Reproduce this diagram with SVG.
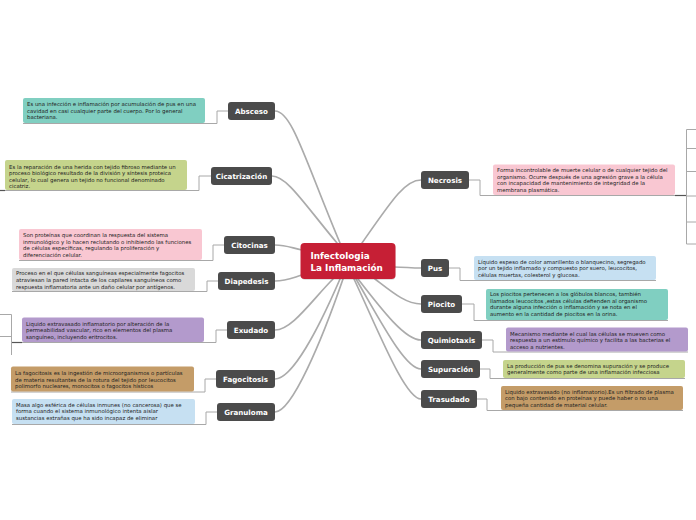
<svg xmlns="http://www.w3.org/2000/svg" width="696" height="520" viewBox="0 0 696 520">
<style>
.bg{fill:#ffffff}
.topic rect{fill:#4b4b4b}
.topic text{fill:#ffffff;font-family:"DejaVu Sans",Verdana,sans-serif;font-weight:bold;font-size:7.1px;text-anchor:middle}
.note text{fill:#222222;font-family:"DejaVu Sans",Verdana,sans-serif;font-size:5.4px}
.cur{fill:none;stroke:#ababab;stroke-width:1.7;stroke-linecap:round}
.ln{fill:none;stroke:#a8a8a8;stroke-width:1}
.dk{fill:none;stroke:#555555;stroke-width:1.2}
.shadow{fill:#000000;opacity:0.12}
</style>
<rect class="bg" x="0" y="0" width="696" height="520"/>

<g id="connectors">
  <path class="cur" d="M275,111 C292,111 305,160 340,243"/>
  <path class="cur" d="M272,176 C287,176 305,205 337,243"/>
  <path class="cur" d="M275,245 C286,245 292,248 302,250"/>
  <path class="cur" d="M275,281 C286,281 292,278 302,275"/>
  <path class="cur" d="M275,330 C292,330 312,300 333,279"/>
  <path class="cur" d="M275,379 C292,379 318,330 340,279"/>
  <path class="cur" d="M275,412 C292,412 322,340 343,279"/>
  <path class="cur" d="M421,180 C405,180 392,200 362,243"/>
  <path class="cur" d="M421,268 C410,268 405,267 394,267"/>
  <path class="cur" d="M421,304 C406,304 392,292 375,279"/>
  <path class="cur" d="M421,340 C405,340 382,310 358,279"/>
  <path class="cur" d="M421,369 C405,369 380,320 356,279"/>
  <path class="cur" d="M421,399 C405,399 378,330 354,279"/>

  <path class="ln" d="M23,123.5 H217 V111 H228"/>
  <path class="ln" d="M5,190.5 H199 V176 H211"/>
  <path class="ln" d="M19,260.5 H213 V245 H224"/>
  <path class="ln" d="M12,291.5 H207 V281 H218"/>
  <path class="ln" d="M22,342.5 H216 V330 H227"/>
  <path class="ln" d="M11,392 H205 V379 H216"/>
  <path class="ln" d="M12,424.5 H206 V412 H217"/>

  <path class="ln" d="M469,180 H480 V195.5 H675"/>
  <path class="ln" d="M448,268 H460 V280.5 H656"/>
  <path class="ln" d="M462,304 H474 V320.5 H668"/>
  <path class="ln" d="M482,340 H493 V352 H688"/>
  <path class="ln" d="M480,369 H490 V378.5 H685"/>
  <path class="ln" d="M477,399 H487 V410.5 H683"/>

  <path class="dk" d="M0,190.5 H5"/>
  <path class="dk" d="M11.5,342.5 H22"/>
  <path class="ln" d="M0,314.5 H11.5 V355"/>
  <path class="ln" d="M0,336.5 H11.5"/>
  <path class="dk" d="M675,195.5 H686"/>
  <path class="ln" d="M696,129.5 H686.5 V244 H696"/>
  <path class="ln" d="M686.5,148.5 H696"/>
  <path class="ln" d="M686.5,171.5 H696"/>
  <path class="ln" d="M686.5,196 H696"/>
  <path class="ln" d="M686.5,222 H696"/>
</g>

<g id="central">
  <rect x="301.5" y="244" width="94" height="36" rx="4" class="shadow"/>
  <rect x="300.5" y="243" width="95" height="36" rx="4" fill="#c61f35"/>
  <text x="310.5" y="259" fill="#ffffff" font-family="DejaVu Sans, Verdana, sans-serif" font-weight="bold" font-size="8.8">Infectologia</text>
  <text x="310.5" y="270.5" fill="#ffffff" font-family="DejaVu Sans, Verdana, sans-serif" font-weight="bold" font-size="8.8">La Inflamación</text>
</g>

<g id="absceso" class="topic"><rect x="228" y="102" width="47" height="18" rx="3"/><text x="251.5" y="114">Absceso</text></g>
<g id="cicatrizacion" class="topic"><rect x="211" y="167" width="61" height="18" rx="3"/><text x="241.5" y="179">Cicatrización</text></g>
<g id="citocinas" class="topic"><rect x="224" y="236" width="51" height="18" rx="3"/><text x="249.5" y="248">Citocinas</text></g>
<g id="diapedesis" class="topic"><rect x="218" y="272" width="57" height="18" rx="3"/><text x="246.5" y="284">Diapedesis</text></g>
<g id="exudado" class="topic"><rect x="227" y="321" width="48" height="18" rx="3"/><text x="251" y="333">Exudado</text></g>
<g id="fagocitosis" class="topic"><rect x="216" y="370" width="59" height="18" rx="3"/><text x="245.5" y="382">Fagocitosis</text></g>
<g id="granuloma" class="topic"><rect x="217" y="403" width="58" height="18" rx="3"/><text x="246" y="415">Granuloma</text></g>
<g id="necrosis" class="topic"><rect x="421" y="171" width="48" height="18" rx="3"/><text x="445" y="183">Necrosis</text></g>
<g id="pus" class="topic"><rect x="421" y="259" width="28" height="18" rx="3"/><text x="435" y="271">Pus</text></g>
<g id="piocito" class="topic"><rect x="421" y="295" width="41" height="18" rx="3"/><text x="441.5" y="307">Piocito</text></g>
<g id="quimiotaxis" class="topic"><rect x="421" y="331" width="61" height="18" rx="3"/><text x="451.5" y="343">Quimiotaxis</text></g>
<g id="supuracion" class="topic"><rect x="421" y="360" width="59" height="18" rx="3"/><text x="450.5" y="372">Supuración</text></g>
<g id="trasudado" class="topic"><rect x="421" y="390" width="56" height="18" rx="3"/><text x="449" y="402">Trasudado</text></g>

<g id="note-absceso" class="note">
  <rect x="23" y="98" width="182" height="25" rx="2" fill="#80cfc1"/>
  <text x="27" y="106">Es una infección e inflamación por acumulación de pus en una</text>
  <text x="27" y="112.5">cavidad en casi cualquier parte del cuerpo. Por lo general</text>
  <text x="27" y="119">bacteriana.</text>
</g>
<g id="note-cicatrizacion" class="note">
  <rect x="5" y="160" width="182" height="30" rx="2" fill="#c5d48c"/>
  <text x="9" y="168.5">Es la reparación de una herida con tejido fibroso mediante un</text>
  <text x="9" y="175">proceso biológico resultado de la división y síntesis proteica</text>
  <text x="9" y="181.5">celular, lo cual genera un tejido no funcional denominado</text>
  <text x="9" y="188">cicatriz.</text>
</g>
<g id="note-citocinas" class="note">
  <rect x="19" y="229" width="183" height="31" rx="2" fill="#f9c7d2"/>
  <text x="23" y="237">Son proteínas que coordinan la respuesta del sistema</text>
  <text x="23" y="243.5">inmunológico y lo hacen reclutando o inhibiendo las funciones</text>
  <text x="23" y="250">de células específicas, regulando la proliferación y</text>
  <text x="23" y="256.5">diferenciación celular.</text>
</g>
<g id="note-diapedesis" class="note">
  <rect x="12" y="268" width="183" height="23" rx="2" fill="#d9d9d9"/>
  <text x="16" y="275">Proceso en el que células sanguíneas especialmente fagocitos</text>
  <text x="16" y="282">atraviesan la pared intacta de los capilares sanguíneos como</text>
  <text x="16" y="288.5">respuesta inflamatoria ante un daño celular por antígenos.</text>
</g>
<g id="note-exudado" class="note">
  <rect x="22" y="317.5" width="182" height="24.5" rx="2" fill="#b39acc"/>
  <text x="26" y="325.5">Liquido extravasado inflamatorio por alteración de la</text>
  <text x="26" y="332">permeabilidad vascular, rico en elementos del plasma</text>
  <text x="26" y="338.5">sanguíneo, incluyendo eritrocitos.</text>
</g>
<g id="note-fagocitosis" class="note">
  <rect x="11" y="366.5" width="183" height="25" rx="2" fill="#c49c68"/>
  <text x="15" y="375">La fagocitosis es la ingestión de microorganismos o partículas</text>
  <text x="15" y="381.5">de materia resultantes de la rotura del tejido por leucocitos</text>
  <text x="15" y="388">polimorfo nucleares, monocitos o fagocitos hísticos</text>
</g>
<g id="note-granuloma" class="note">
  <rect x="12" y="399" width="183" height="25" rx="2" fill="#c6e0f2"/>
  <text x="16" y="406.5">Masa algo esférica de células inmunes (no cancerosa) que se</text>
  <text x="16" y="413">forma cuando el sistema inmunológico intenta aislar</text>
  <text x="16" y="419.5">sustancias extrañas que ha sido incapaz de eliminar</text>
</g>
<g id="note-necrosis" class="note">
  <rect x="493" y="164.5" width="182" height="30.5" rx="2" fill="#f9c7d2"/>
  <text x="497" y="172">Forma incontrolable de muerte celular o de cualquier tejido del</text>
  <text x="497" y="178.5">organismo. Ocurre después de una agresión grave a la célula</text>
  <text x="497" y="185">con incapacidad de mantenimiento de integridad de la</text>
  <text x="497" y="191.5">membrana plasmática.</text>
</g>
<g id="note-pus" class="note">
  <rect x="474" y="256" width="182" height="24" rx="2" fill="#c6e0f2"/>
  <text x="478" y="263.5">Líquido espeso de color amarillento o blanquecino, segregado</text>
  <text x="478" y="270">por un tejido inflamado y compuesto por suero, leucocitos,</text>
  <text x="478" y="276.5">células muertas, colesterol y glucosa.</text>
</g>
<g id="note-piocito" class="note">
  <rect x="486" y="289" width="182" height="31" rx="2" fill="#80cfc1"/>
  <text x="490" y="296">Los piocitos pertenecen a los glóbulos blancos, también</text>
  <text x="490" y="302.5">llamados leucocitos ,estas células defienden al organismo</text>
  <text x="490" y="309">durante alguna infección o inflamación y se nota en el</text>
  <text x="490" y="315.5">aumento en la cantidad de piocitos en la orina.</text>
</g>
<g id="note-quimiotaxis" class="note">
  <rect x="506" y="327.5" width="182" height="24" rx="2" fill="#b39acc"/>
  <text x="510" y="335.5">Mecanismo mediante el cual las células se mueven como</text>
  <text x="510" y="342">respuesta a un estímulo químico y  facilita a las bacterias el</text>
  <text x="510" y="348.5">acceso a nutrientes.</text>
</g>
<g id="note-supuracion" class="note">
  <rect x="503" y="360" width="182" height="18" rx="2" fill="#c5d48c"/>
  <text x="507" y="367.5">La producción de pus se denomina supuración y se produce</text>
  <text x="507" y="374">generalmente como parte de una inflamación infecciosa</text>
</g>
<g id="note-trasudado" class="note">
  <rect x="501" y="386" width="182" height="24" rx="2" fill="#c49c68"/>
  <text x="505" y="393.5">Liquido extravasado (no inflamatorio).Es un filtrado de plasma</text>
  <text x="505" y="400">con bajo contenido en proteínas y puede haber o no una</text>
  <text x="505" y="406.5">pequeña cantidad de material celular.</text>
</g>
</svg>
